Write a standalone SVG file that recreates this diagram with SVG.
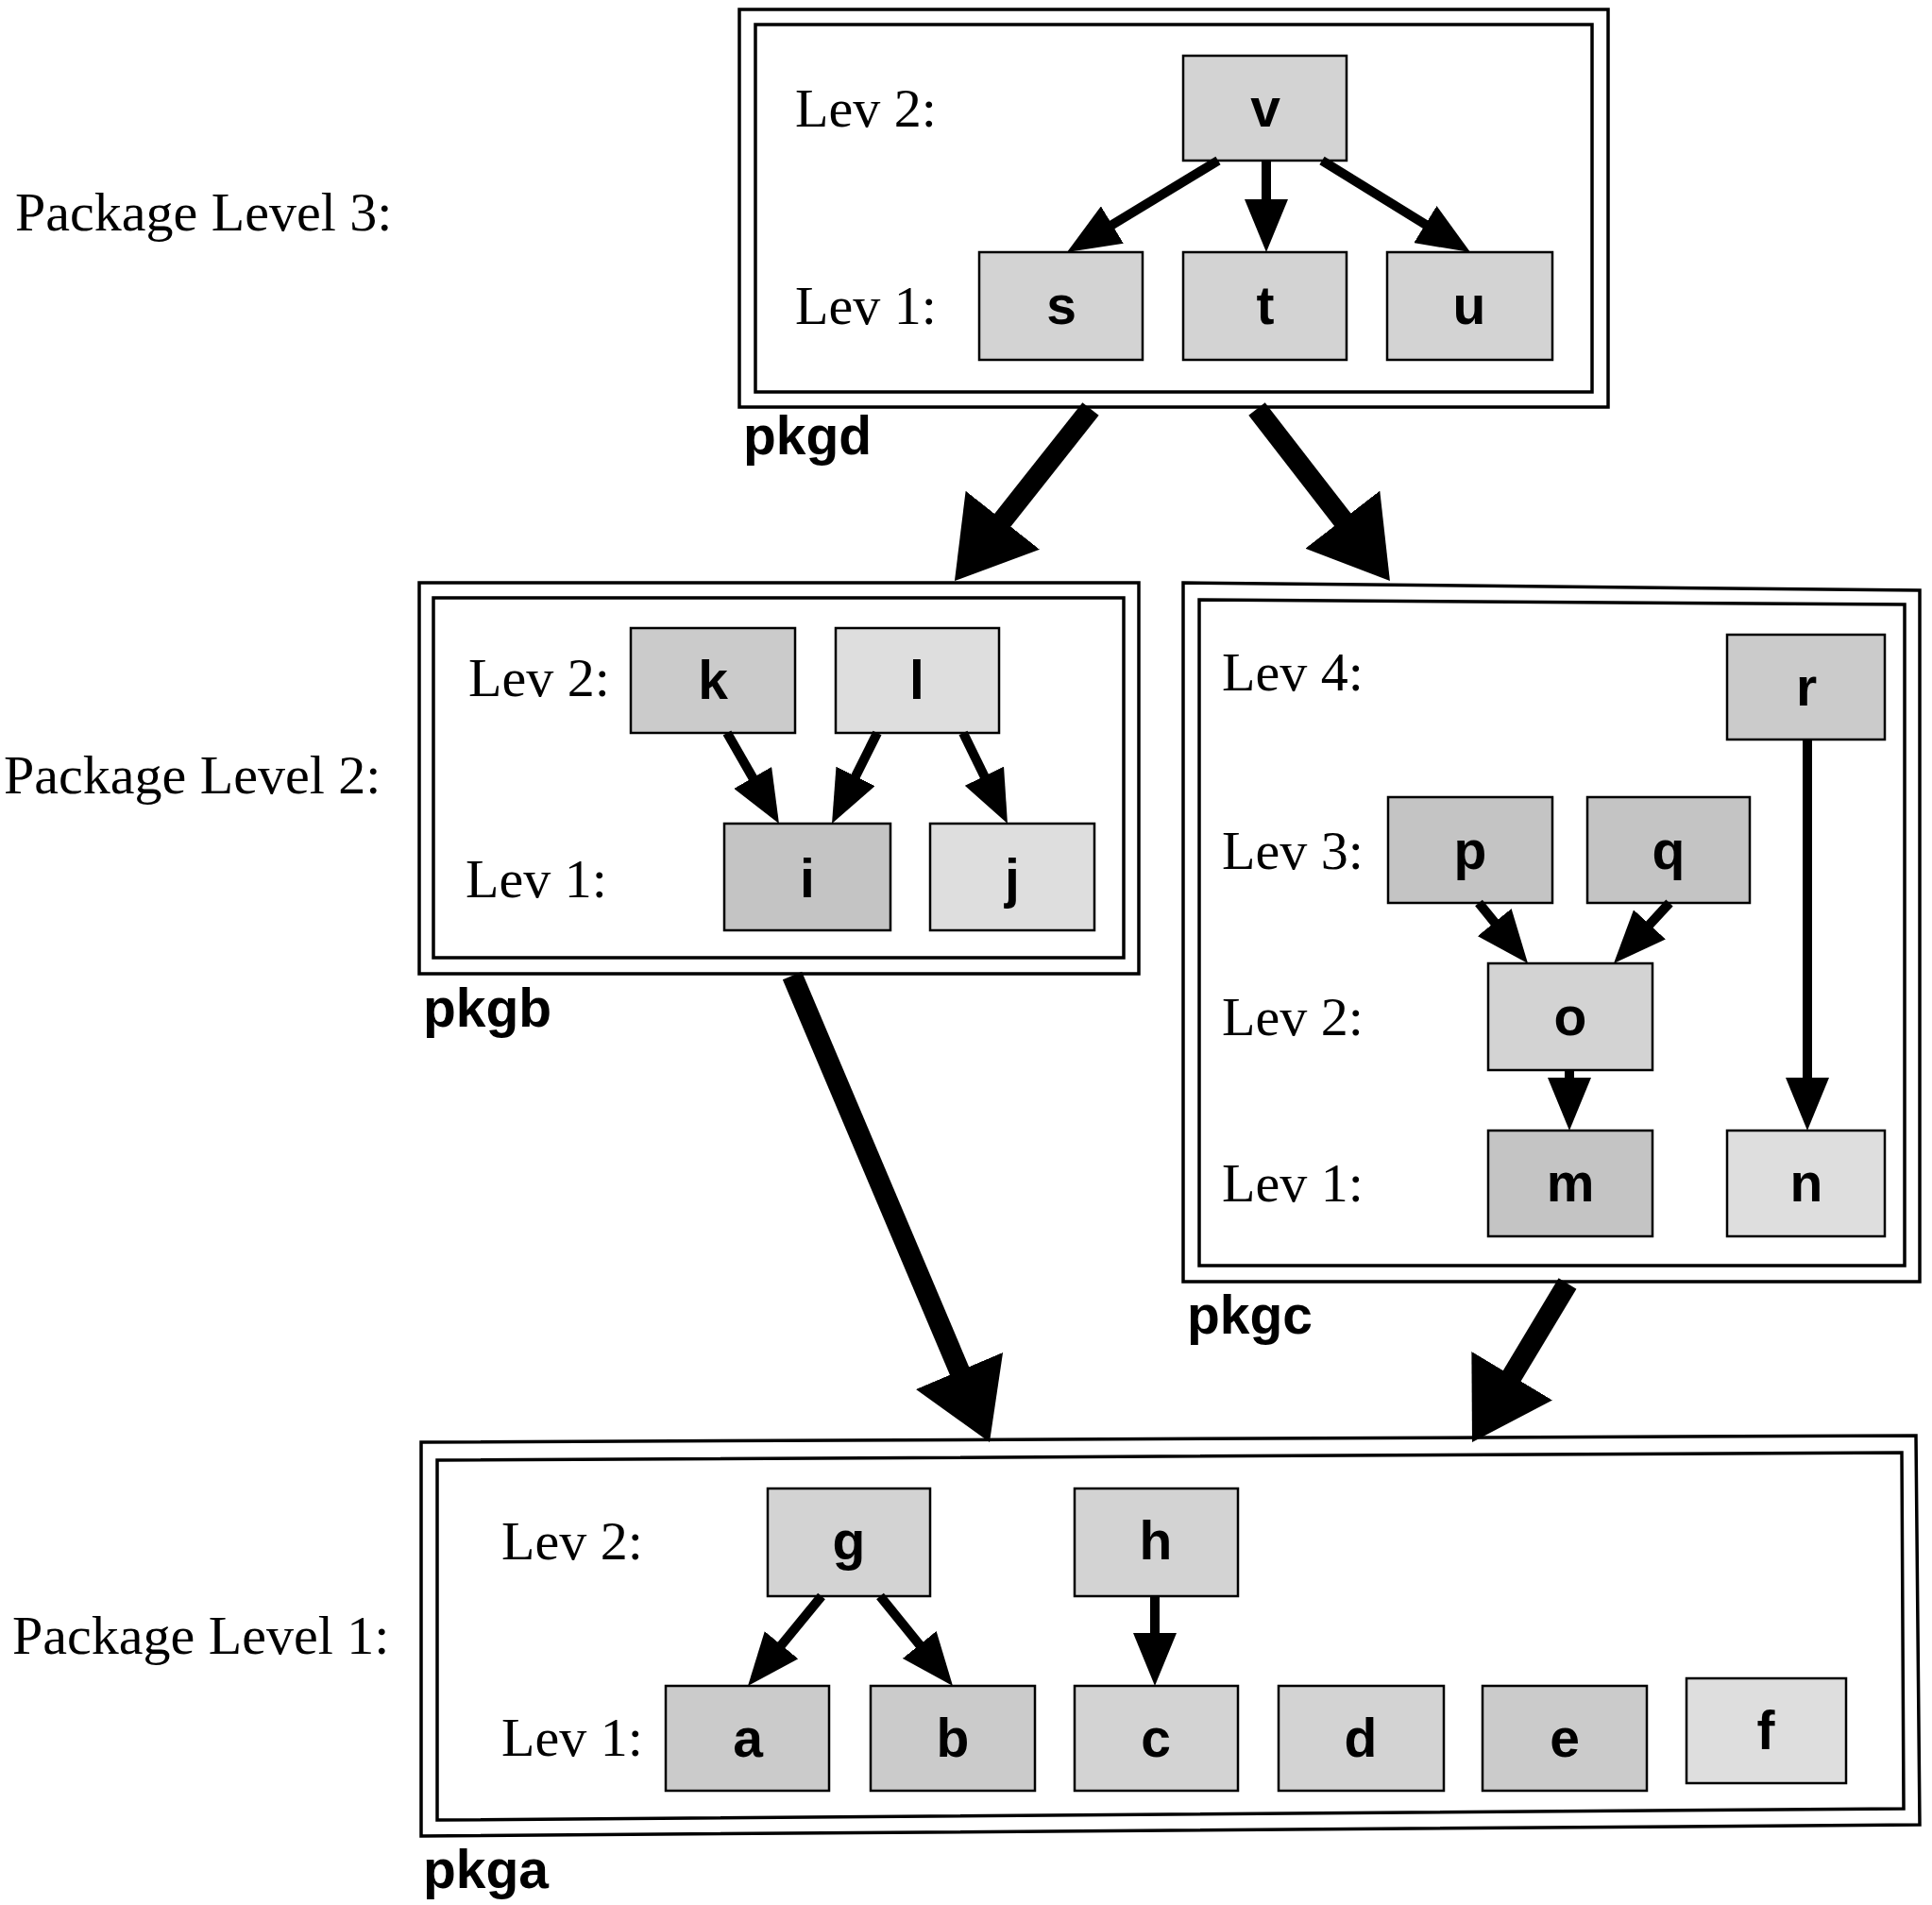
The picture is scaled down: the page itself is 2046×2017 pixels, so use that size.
<svg xmlns="http://www.w3.org/2000/svg" width="2046" height="2017" viewBox="0 0 2046 2017">
<style>
  .bg{fill:#ffffff}
  .pkg{fill:none;stroke:#000;stroke-width:3.5;stroke-linejoin:miter}
  .node{stroke:#000;stroke-width:2.5;fill:#d3d3d3}
  .light{fill:#dedede}
  .dark{fill:#c4c4c4}
  .mid{fill:#cbcbcb}
  .nl{font-family:"Liberation Sans",Arial,sans-serif;font-weight:bold;font-size:57px;text-anchor:middle;fill:#000}
  .lev{font-family:"Liberation Serif","Times New Roman",serif;font-size:58px;fill:#000}
  .pl{font-family:"Liberation Serif","Times New Roman",serif;font-size:58px;fill:#000}
  .pn{font-family:"Liberation Sans",Arial,sans-serif;font-weight:bold;font-size:57px;fill:#000}
  .sa{fill:none;stroke:#000;stroke-width:10;marker-end:url(#sh)}
  .ba{fill:none;stroke:#000;stroke-width:22;marker-end:url(#bh)}
</style>
<defs>
  <marker id="sh" viewBox="0 -23 56 46" refX="16" refY="0" markerWidth="56" markerHeight="46" markerUnits="userSpaceOnUse" orient="auto">
    <path d="M0,-23 L56,0 L0,23 Z" fill="#000"/>
  </marker>
  <marker id="bh" viewBox="0 -50 82 100" refX="22" refY="0" markerWidth="82" markerHeight="100" markerUnits="userSpaceOnUse" orient="auto">
    <path d="M0,-50 L82,0 L0,50 Z" fill="#000"/>
  </marker>
</defs>
<rect class="bg" x="0" y="0" width="2046" height="2017"/>

<g id="level-labels">
  <text class="pl" x="16" y="244">Package Level 3:</text>
  <text class="pl" x="4" y="840">Package Level 2:</text>
  <text class="pl" x="13" y="1751">Package Level 1:</text>
</g>

<g id="pkgd">
  <rect class="pkg" x="783" y="10" width="920" height="421"/>
  <rect class="pkg" x="800" y="26" width="886" height="389"/>
  <text class="lev" x="842" y="134">Lev 2:</text>
  <text class="lev" x="842" y="343">Lev 1:</text>
  <text class="pn" x="787" y="481">pkgd</text>
</g>
<g id="node-v"><rect class="node" x="1253" y="59" width="173" height="111"/><text class="nl" x="1340" y="134">v</text></g>
<g id="node-s"><rect class="node" x="1037" y="267" width="173" height="114"/><text class="nl" x="1124" y="343">s</text></g>
<g id="node-t"><rect class="node" x="1253" y="267" width="173" height="114"/><text class="nl" x="1340" y="343">t</text></g>
<g id="node-u"><rect class="node" x="1469" y="267" width="175" height="114"/><text class="nl" x="1556" y="343">u</text></g>

<g id="pkgb">
  <rect class="pkg" x="444" y="617" width="762" height="414"/>
  <rect class="pkg" x="459" y="633" width="731" height="381"/>
  <text class="lev" x="496" y="737">Lev 2:</text>
  <text class="lev" x="493" y="950">Lev 1:</text>
  <text class="pn" x="448" y="1087">pkgb</text>
</g>
<g id="node-k"><rect class="node mid" x="668" y="665" width="174" height="111"/><text class="nl" x="755" y="740">k</text></g>
<g id="node-l"><rect class="node light" x="885" y="665" width="173" height="111"/><text class="nl" x="971" y="740">l</text></g>
<g id="node-i"><rect class="node dark" x="767" y="872" width="176" height="113"/><text class="nl" x="855" y="950">i</text></g>
<g id="node-j"><rect class="node light" x="985" y="872" width="174" height="113"/><text class="nl" x="1072" y="950">j</text></g>

<g id="pkgc">
  <path class="pkg" d="M1253,617 L2033,625 L2033,1357 L1253,1357 Z"/>
  <path class="pkg" d="M1270,635 L2017,640 L2017,1340 L1270,1340 Z"/>
  <text class="lev" x="1294" y="731">Lev 4:</text>
  <text class="lev" x="1294" y="920">Lev 3:</text>
  <text class="lev" x="1294" y="1096">Lev 2:</text>
  <text class="lev" x="1294" y="1272">Lev 1:</text>
  <text class="pn" x="1257" y="1412">pkgc</text>
</g>
<g id="node-r"><rect class="node mid" x="1829" y="672" width="167" height="111"/><text class="nl" x="1913" y="747">r</text></g>
<g id="node-p"><rect class="node dark" x="1470" y="844" width="174" height="112"/><text class="nl" x="1557" y="920">p</text></g>
<g id="node-q"><rect class="node dark" x="1681" y="844" width="172" height="112"/><text class="nl" x="1767" y="920">q</text></g>
<g id="node-o"><rect class="node" x="1576" y="1020" width="174" height="113"/><text class="nl" x="1663" y="1096">o</text></g>
<g id="node-m"><rect class="node dark" x="1576" y="1197" width="174" height="112"/><text class="nl" x="1663" y="1272">m</text></g>
<g id="node-n"><rect class="node light" x="1829" y="1197" width="167" height="112"/><text class="nl" x="1913" y="1272">n</text></g>

<g id="pkga">
  <path class="pkg" d="M446,1527 L2029,1520 L2033,1932 L446,1944 Z"/>
  <path class="pkg" d="M463,1546 L2014,1538 L2016,1915 L463,1927 Z"/>
  <text class="lev" x="531" y="1651">Lev 2:</text>
  <text class="lev" x="531" y="1859">Lev 1:</text>
  <text class="pn" x="448" y="1999">pkga</text>
</g>
<g id="node-g"><rect class="node" x="813" y="1576" width="172" height="114"/><text class="nl" x="899" y="1651">g</text></g>
<g id="node-h"><rect class="node" x="1138" y="1576" width="173" height="114"/><text class="nl" x="1224" y="1651">h</text></g>
<g id="node-a"><rect class="node mid" x="705" y="1785" width="173" height="111"/><text class="nl" x="792" y="1860">a</text></g>
<g id="node-b"><rect class="node mid" x="922" y="1785" width="174" height="111"/><text class="nl" x="1009" y="1860">b</text></g>
<g id="node-c"><rect class="node" x="1138" y="1785" width="173" height="111"/><text class="nl" x="1224" y="1860">c</text></g>
<g id="node-d"><rect class="node" x="1354" y="1785" width="175" height="111"/><text class="nl" x="1441" y="1860">d</text></g>
<g id="node-e"><rect class="node mid" x="1570" y="1785" width="174" height="111"/><text class="nl" x="1657" y="1860">e</text></g>
<g id="node-f"><rect class="node light" x="1786" y="1777" width="169" height="111"/><text class="nl" x="1870" y="1852">f</text></g>

<g id="connectors">
  <line class="sa" x1="1290" y1="170" x2="1164.2" y2="246.3"/>
  <line class="sa" x1="1341" y1="170" x2="1341" y2="227"/>
  <line class="sa" x1="1400" y1="170" x2="1523" y2="246"/>
  <line class="sa" x1="770" y1="776" x2="805.1" y2="837.3"/>
  <line class="sa" x1="929" y1="776" x2="898.9" y2="836.2"/>
  <line class="sa" x1="1020" y1="776" x2="1049.4" y2="836.1"/>
  <line class="sa" x1="1566" y1="956" x2="1592.8" y2="989"/>
  <line class="sa" x1="1768" y1="956" x2="1736.1" y2="990.6"/>
  <line class="sa" x1="1662" y1="1133" x2="1662" y2="1157"/>
  <line class="sa" x1="1914" y1="783" x2="1914" y2="1157"/>
  <line class="sa" x1="870" y1="1690" x2="817.4" y2="1754.1"/>
  <line class="sa" x1="932" y1="1690" x2="983.8" y2="1753.9"/>
  <line class="sa" x1="1223" y1="1690" x2="1223" y2="1745"/>
  <line class="ba" x1="1155" y1="433" x2="1048.2" y2="568"/>
  <line class="ba" x1="1331" y1="433" x2="1435.2" y2="567.6"/>
  <line class="ba" x1="839" y1="1033" x2="1024.6" y2="1471.7"/>
  <line class="ba" x1="1660" y1="1359" x2="1589.9" y2="1475.6"/>
</g>
</svg>
